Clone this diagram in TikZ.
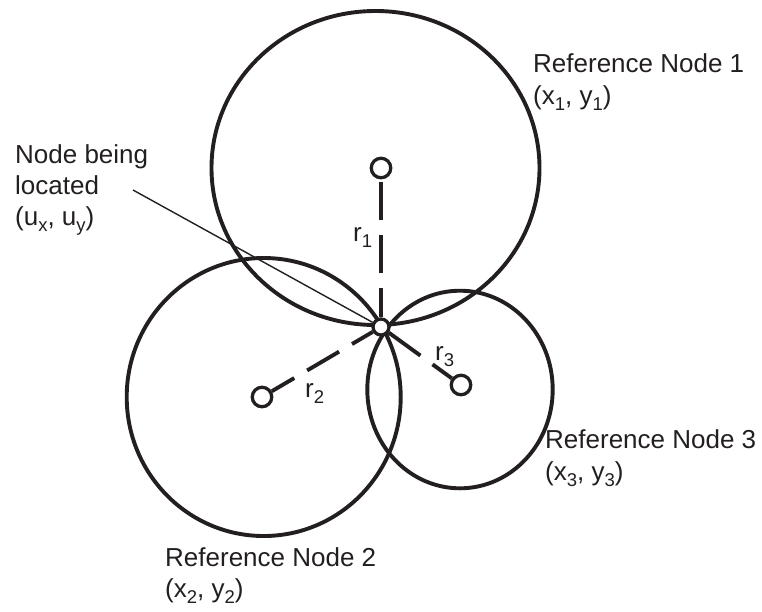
\documentclass[tikz,border=0pt]{standalone}
\usepackage{fontspec}
\setmainfont{Liberation Sans}
\definecolor{inkc}{RGB}{35,31,32}
\newcommand\subtx[1]{\raisebox{-6pt}{\fontsize{18.5}{20}\selectfont #1}}
\begin{document}
\begin{tikzpicture}[x=1pt,y=-1pt,
  bigc/.style={draw=inkc, line width=3.9pt},
  refnode/.style={circle, draw=inkc, fill=white, line width=3.3pt, minimum size=19.5pt, inner sep=0pt},
  locnode/.style={circle, draw=inkc, fill=white, line width=3.3pt, minimum size=16pt, inner sep=0pt},
  lbl/.style={anchor=base west, inner sep=0pt, text=inkc, font=\fontsize{26}{31}\selectfont},
  radline/.style={draw=inkc, line width=3.9pt},
  leader/.style={draw=inkc, line width=1.4pt}
]
\useasboundingbox (0,0) rectangle (762,611);

% range circles
\draw[bigc] (375.5,168) ellipse [x radius=164pt, y radius=157pt];
\draw[bigc] (263.7,397) ellipse [x radius=137pt, y radius=139pt];
\draw[bigc] (460,389.5) ellipse [x radius=92.7pt, y radius=98.8pt];

% nodes
\node[refnode] (n1) at (381,168) {};
\node[refnode] (n2) at (262,397) {};
\node[refnode] (n3) at (461,385) {};
\node[locnode] (u) at (381,327) {};

% radii
\draw[radline, dash pattern=on 38pt off 15pt, dash phase=9pt] (u) -- (n1);
\draw[radline, dash pattern=on 37pt off 15pt, dash phase=13pt] (u) -- (n2);
\draw[radline, dash pattern=on 39pt off 15pt] (u) -- (n3);

% leader
\coordinate (lead) at (133,190);
\draw[leader] (lead) -- (u);

% labels
\node[lbl] (la) at (15,163) {Node being};
\node[lbl] (lb) at (15,194) {located};
\node[lbl] (lc) at (15,225) {(u\subtx{x}, u\subtx{y})};

\node[lbl] (t1a) at (533,72) {Reference Node 1};
\node[lbl] (t1b) at (533,104) {(x\subtx{1}, y\subtx{1})};
\node[lbl] (t3a) at (545,448) {Reference Node 3};
\node[lbl] (t3b) at (545,480) {(x\subtx{3}, y\subtx{3})};
\node[lbl] (t2a) at (165,566) {Reference Node 2};
\node[lbl] (t2b) at (165,597) {(x\subtx{2}, y\subtx{2})};

\node[lbl] (r1) at (353,241) {r\subtx{1}};
\node[lbl] (r2) at (305,397) {r\subtx{2}};
\node[lbl] (r3) at (435,360) {r\subtx{3}};
\end{tikzpicture}
\end{document}
